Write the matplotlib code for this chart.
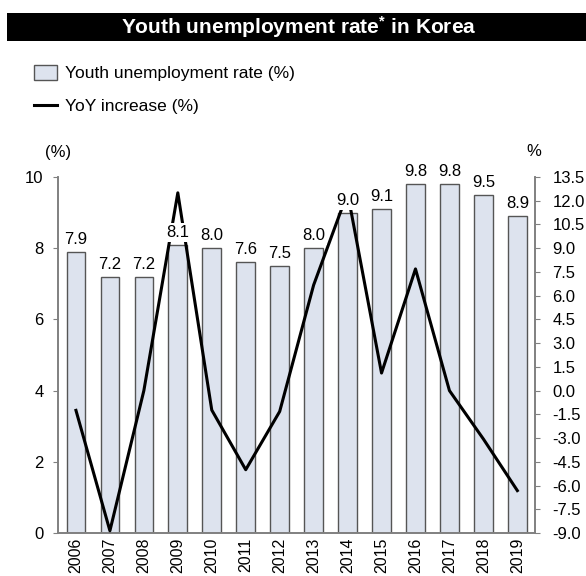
import matplotlib
matplotlib.use("Agg")
import matplotlib.pyplot as plt
from matplotlib.patches import Rectangle, Patch
from matplotlib.lines import Line2D

plt.rcParams['font.family'] = ['Liberation Sans', 'DejaVu Sans']
plt.rcParams['mathtext.fontset'] = 'custom'
plt.rcParams['mathtext.rm'] = 'Liberation Sans:bold'
plt.rcParams['mathtext.it'] = 'Liberation Sans:bold'

years = ["2006", "2007", "2008", "2009", "2010", "2011", "2012",
         "2013", "2014", "2015", "2016", "2017", "2018", "2019"]
rate = [7.9, 7.2, 7.2, 8.1, 8.0, 7.6, 7.5, 8.0, 9.0, 9.1, 9.8, 9.8, 9.5, 8.9]
yoy = [-1.25, -8.86, 0.0, 12.5, -1.23, -5.0, -1.32, 6.67, 12.5, 1.11,
       7.69, 0.0, -3.06, -6.32]
right_ticks = [-9.0, -7.5, -6.0, -4.5, -3.0, -1.5, 0.0, 1.5, 3.0, 4.5,
               6.0, 7.5, 9.0, 10.5, 12.0, 13.5]

bar_face = "#dde3ee"
bar_edge = "#555555"
spine_c = "#808080"
FS = 12

fig = plt.figure(figsize=(5.86, 5.76), dpi=100)

# Title band
fig.patches.append(Rectangle((7 / 586, 1 - 41 / 576), 1 - 7 / 586, 28.5 / 576,
                             transform=fig.transFigure, facecolor="black",
                             edgecolor="none", zorder=0))
fig.text(299 / 586, 1 - 27 / 576, r"Youth unemployment rate$^{*}$ in Korea",
         color="white", fontsize=15, fontweight="bold",
         ha="center", va="center")

ax = fig.add_axes([58.3 / 586, 1 - 533 / 576, (535 - 58.3) / 586, (533 - 177) / 576])
x = list(range(len(years)))
ax.bar(x, rate, width=0.55, color=bar_face, edgecolor=bar_edge, linewidth=1.0,
       zorder=2)
ax.set_ylim(0, 10)
ax.set_yticks([0, 2, 4, 6, 8, 10])
ax.set_xlim(-0.52, 13.52)
ax.set_xticks(x)
ax.set_xticklabels(years, rotation=90, fontsize=11.5)
ax.tick_params(axis="y", labelsize=FS, length=3.6, color=spine_c, pad=7)
ax.tick_params(axis="x", length=0, pad=3.5)
ax.spines["top"].set_visible(False)
for s in ("left", "right", "bottom"):
    ax.spines[s].set_color(spine_c)
    ax.spines[s].set_linewidth(1.2)

ax2 = ax.twinx()
ax2.plot(x, yoy, color="black", linewidth=2.2, zorder=3)
ax2.set_ylim(-9.0, 13.5)
ax2.set_yticks(right_ticks)
ax2.set_yticklabels([f"{t:.1f}" for t in right_ticks])
ax2.tick_params(axis="y", labelsize=FS, length=3.6, color=spine_c, pad=9)
ax2.spines["top"].set_visible(False)
for s in ("left", "right", "bottom"):
    ax2.spines[s].set_color(spine_c)
    ax2.spines[s].set_linewidth(1.2)

# Value labels above bars, on a white backing that sits over the line
for xi, v in zip(x, rate):
    ax2.annotate(f"{v:.1f}", xy=(xi, v), xycoords=ax.transData,
                 xytext=(0, 3.6), textcoords="offset points",
                 ha="center", va="bottom", fontsize=FS, zorder=5,
                 bbox=dict(boxstyle="square,pad=0.12", facecolor="white",
                           edgecolor="none"))

fig.text(58 / 586, 1 - 152 / 576, "(%)", fontsize=FS, ha="center", va="center")
fig.text(534 / 586, 1 - 152 / 576, "%", fontsize=FS, ha="center", va="center")

handles = [Patch(facecolor=bar_face, edgecolor=bar_edge, linewidth=1.0),
           Line2D([0], [0], color="black", linewidth=2.2)]
fig.legend(handles, ["Youth unemployment rate (%)", "YoY increase (%)"],
           loc="upper left", bbox_to_anchor=(34 / 586, 1 - 65 / 576),
           frameon=False, fontsize=12.5, handlelength=1.3, handleheight=0.95,
           handletextpad=0.5, labelspacing=0.95, borderaxespad=0, borderpad=0)

fig.savefig("out.png", dpi=100)
